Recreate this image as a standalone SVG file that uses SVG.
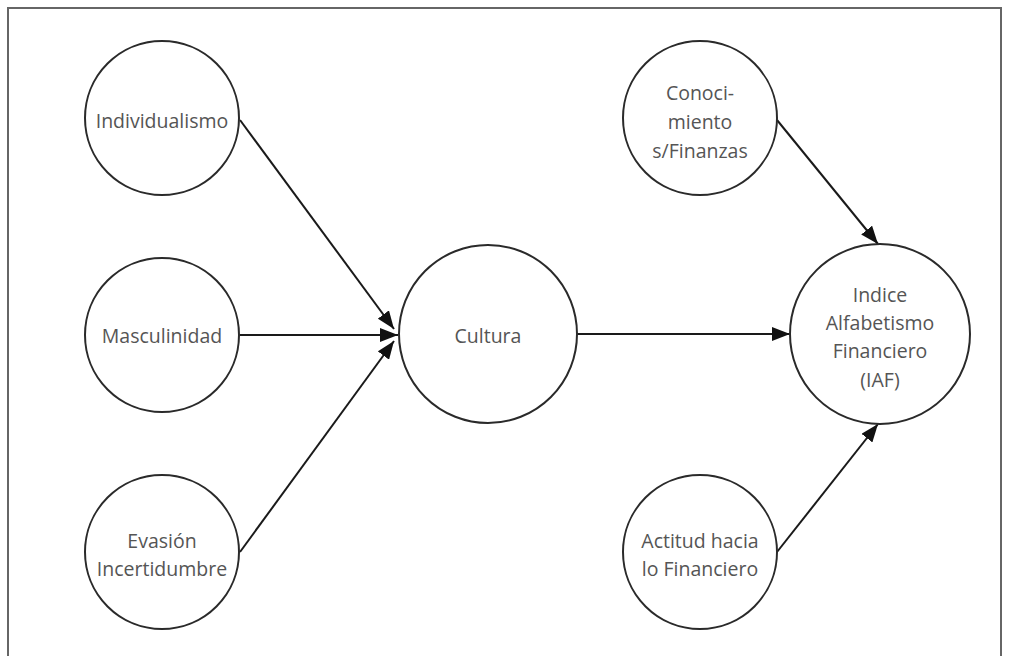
<svg xmlns="http://www.w3.org/2000/svg" width="1009" height="656" viewBox="0 0 1009 656">
<style>
.n{fill:#fff;stroke:#2a2a2a;stroke-width:2}
.t{font-family:"Open Sans",Lato,sans-serif;font-size:19.5px;fill:#555;text-anchor:middle;dominant-baseline:central}
.c{stroke:#1a1a1a;stroke-width:2;fill:none;marker-end:url(#ah)}
</style>
<defs>
<marker id="ah" viewBox="0 0 18 14" refX="18" refY="7" markerWidth="18" markerHeight="14" markerUnits="userSpaceOnUse" orient="auto">
<path d="M0,0 L18,7 L0,14 Z" fill="#111"/>
</marker>
</defs>
<rect width="1009" height="656" fill="#fff"/>
<path d="M8,656 V8 H1001 V656" fill="none" stroke="#666" stroke-width="2"/>
<g id="connectors">
<line class="c" x1="240" y1="120" x2="394" y2="329"/>
<line class="c" x1="240" y1="335" x2="398" y2="335"/>
<line class="c" x1="240" y1="552" x2="394" y2="341"/>
<line class="c" x1="577" y1="334" x2="790" y2="334"/>
<line class="c" x1="777" y1="120" x2="878" y2="244"/>
<line class="c" x1="777" y1="552" x2="878" y2="424"/>
</g>
<g id="individualismo"><circle class="n" cx="162" cy="118" r="77"/><text class="t" x="162" y="120">Individualismo</text></g>
<g id="masculinidad"><circle class="n" cx="162" cy="335" r="77"/><text class="t" x="162" y="335">Masculinidad</text></g>
<g id="evasion"><circle class="n" cx="162" cy="552" r="77"/><text class="t" x="162" y="540">Evasión</text><text class="t" x="162" y="568">Incertidumbre</text></g>
<g id="cultura"><circle class="n" cx="488" cy="334" r="89"/><text class="t" x="488" y="335">Cultura</text></g>
<g id="conocimiento"><circle class="n" cx="700" cy="118" r="77"/><text class="t" x="700" y="92">Conoci-</text><text class="t" x="700" y="121">miento</text><text class="t" x="700" y="150">s/Finanzas</text></g>
<g id="iaf"><circle class="n" cx="880" cy="334" r="90"/><text class="t" x="880" y="294">Indice</text><text class="t" x="880" y="322">Alfabetismo</text><text class="t" x="880" y="350">Financiero</text><text class="t" x="880" y="379">(IAF)</text></g>
<g id="actitud"><circle class="n" cx="700" cy="552" r="77"/><text class="t" x="700" y="540">Actitud hacia</text><text class="t" x="700" y="568">lo Financiero</text></g>
</svg>
